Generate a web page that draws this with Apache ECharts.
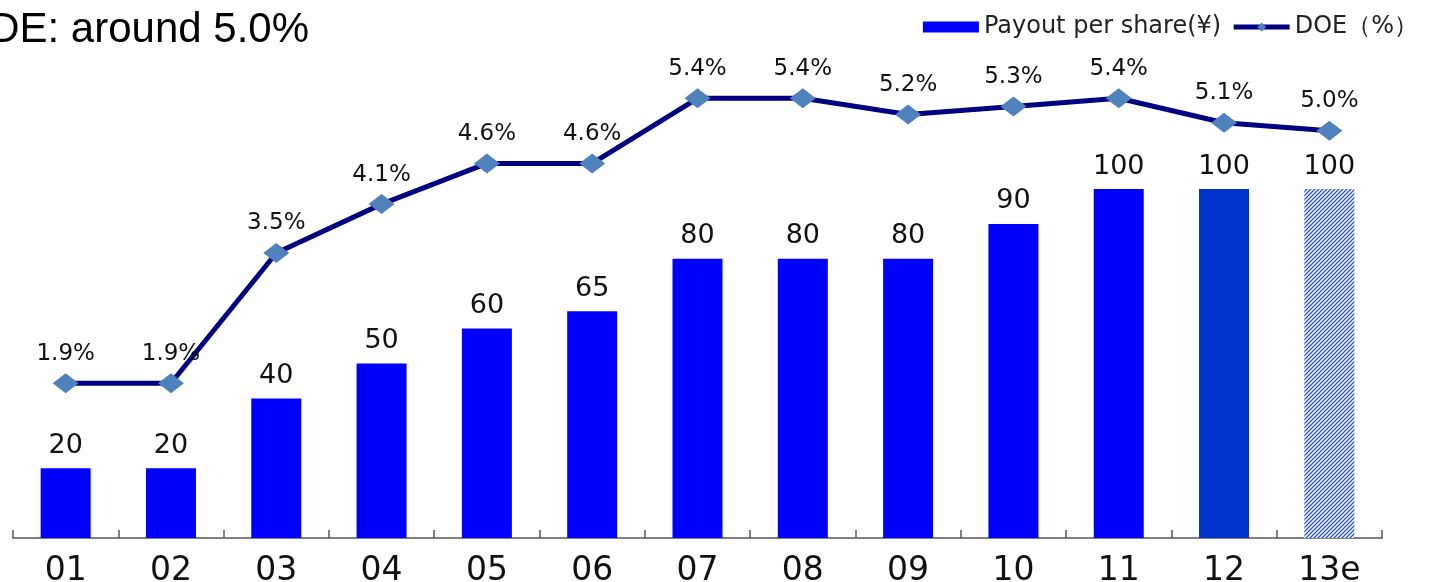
<!DOCTYPE html>
<html>
<head>
<meta charset="utf-8">
<script src="https://cdn.jsdelivr.net/npm/echarts@6/dist/echarts.min.js"></script>
<style>
  html, body { margin: 0; padding: 0; background: #fff; }
  #chart { width: 1441px; height: 582px; }
</style>
</head>
<body>
<div id="chart"></div>
<script>
// 年度ラベル
const years = ['01', '02', '03', '04', '05', '06', '07', '08', '09', '10', '11', '12', '13e'];
// 1株当たり配当(円)
const payout = [20, 20, 40, 50, 60, 65, 80, 80, 80, 90, 100, 100, 100];
// DOE(%)
const doe = [1.9, 1.9, 3.5, 4.1, 4.6, 4.6, 5.4, 5.4, 5.2, 5.3, 5.4, 5.1, 5.0];

// 予想年のハッチング
function makeHatch() {
    const c = document.createElement('canvas');
    c.width = 4;
    c.height = 4;
    const ctx = c.getContext('2d');
    ctx.fillStyle = '#ffffff';
    ctx.fillRect(0, 0, 4, 4);
    ctx.strokeStyle = '#2a4fdc';
    ctx.lineWidth = 1.3;
    ctx.beginPath();
    ctx.moveTo(-1, 5); ctx.lineTo(5, -1);
    ctx.moveTo(-1, 1); ctx.lineTo(1, -1);
    ctx.moveTo(3, 5); ctx.lineTo(5, 3);
    ctx.stroke();
    return c;
}

const chart = echarts.init(document.getElementById('chart'));

const barData = payout.map((v, i) => {
    if (years[i] === '13e') {
        return { value: v, itemStyle: { color: { image: makeHatch(), repeat: 'repeat' } } };
    }
    if (years[i] === '12') {
        return { value: v, itemStyle: { color: '#0033cc' } };
    }
    return v;
});

const option = {
    animation: false,
    graphic: [{
        type: 'text',
        x: 309,
        y: 30,
        style: {
            text: 'DE: around 5.0%',
            fontSize: 42,
            fontFamily: 'Liberation Sans',
            fill: '#000',
            align: 'right',
            verticalAlign: 'middle'
        }
    }],
    legend: {
        top: 10,
        right: 18,
        itemGap: 10,
        itemWidth: 56,
        itemHeight: 11,
        textStyle: { fontSize: 24, fontFamily: 'DejaVu Sans', color: '#222' },
        data: [
            { name: 'Payout per share(¥)', icon: 'rect' },
            { name: 'DOE（%）', lineStyle: { width: 5, color: '#000080' } }
        ]
    },
    grid: {
        left: 13, right: 59, top: 49.4, bottom: 44,
        containLabel: false,
        outerBoundsMode: 'none'
    },
    xAxis: {
        type: 'category',
        data: years,
        axisLine: { show: true, lineStyle: { color: '#808080', width: 2 } },
        axisTick: { show: true, inside: true, length: 8, lineStyle: { color: '#555', width: 1.5 } },
        axisLabel: { fontSize: 33, fontFamily: 'DejaVu Sans', color: '#111', margin: 17 }
    },
    yAxis: [
        { type: 'value', min: 0, max: 140, show: false, splitLine: { show: false } },
        { type: 'value', min: 0, max: 6, show: false, splitLine: { show: false } }
    ],
    series: [
        {
            name: 'Payout per share(¥)',
            type: 'bar',
            yAxisIndex: 0,
            barWidth: 50,
            data: barData,
            itemStyle: { color: '#0000ff' },
            label: {
                show: true,
                position: 'top',
                distance: 9,
                fontSize: 27,
                fontFamily: 'DejaVu Sans',
                color: '#111'
            }
        },
        {
            name: 'DOE（%）',
            type: 'line',
            yAxisIndex: 1,
            data: doe,
            symbol: 'diamond',
            symbolSize: [26, 20],
            lineStyle: { color: '#000080', width: 5 },
            itemStyle: { color: '#4f81bd' },
            label: {
                show: true,
                position: 'top',
                distance: 8,
                fontSize: 23,
                fontFamily: 'DejaVu Sans',
                color: '#111',
                formatter: (p) => p.value.toFixed(1) + '%'
            },
            z: 5
        }
    ]
};

chart.setOption(option);
</script>
</body>
</html>
